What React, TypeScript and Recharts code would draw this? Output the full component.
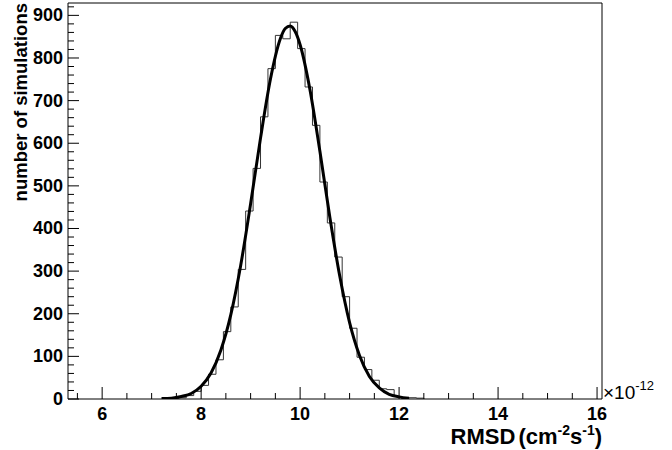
import React from 'react';
import { ComposedChart, Line, XAxis, YAxis, ReferenceLine, Label } from 'recharts';

// histogram: left bin edges (width 0.15), last entry closes the last bin
const binEdges = [
  7.25, 7.4, 7.55, 7.7, 7.85, 8.0, 8.15, 8.3, 8.45, 8.6, 8.75, 8.9, 9.05, 9.2, 9.35, 9.5, 9.65, 9.8,
  9.95, 10.1, 10.25, 10.4, 10.55, 10.7, 10.85, 11.0, 11.15, 11.3, 11.45, 11.6, 11.75, 11.9, 12.05,
  12.2, 12.35, 12.5,
];
const binCounts = [
  1, 1, 3, 8, 18, 32, 58, 92, 158, 216, 304, 441, 541, 662, 775, 853, 845, 884,
  822, 732, 642, 509, 413, 333, 240, 166, 98, 69, 44, 24, 22, 6, 1,
  3, 2, 0,
];

// gaussian fit curve
const fitX = [
  7.2, 7.4, 7.6, 7.8, 8.0, 8.2, 8.4, 8.6, 8.8, 9.0, 9.2, 9.4, 9.6, 9.7, 9.8, 9.9, 10.0, 10.2,
  10.4, 10.6, 10.8, 11.0, 11.2, 11.4, 11.6, 11.8, 12.0, 12.2,
];
const fitY = [
  1, 2, 6, 13, 30, 61, 115, 198, 314, 458, 612, 750, 845, 869, 875, 862, 831, 725,
  581, 427, 289, 179, 102, 53, 26, 11, 5, 2,
];

const xTicks = [5.5, 6, 6.5, 7, 7.5, 8, 8.5, 9, 9.5, 10, 10.5, 11, 11.5, 12, 12.5, 13, 13.5, 14, 14.5, 15, 15.5, 16];
const xLabels = [6, 8, 10, 12, 14, 16];
const yTicks = [
  0, 20, 40, 60, 80, 100, 120, 140, 160, 180, 200, 220, 240, 260, 280, 300, 320, 340, 360, 380,
  400, 420, 440, 460, 480, 500, 520, 540, 560, 580, 600, 620, 640, 660, 680, 700, 720, 740, 760,
  780, 800, 820, 840, 860, 880, 900, 920,
];
const yLabels = [0, 100, 200, 300, 400, 500, 600, 700, 800, 900];

const X_MIN = 5.31;
const X_MAX = 16.1;
const Y_MAX = 929;

const FONT = '"Liberation Sans", Arial, Helvetica, sans-serif';

const histData = binEdges.map((x, i) => ({ x, y: binCounts[i] }));
const fitData = fitX.map((x, i) => ({ x, y: fitY[i] }));

const XTick = ({ x, y, payload }: any) => {
  const major = xLabels.includes(payload.value);
  return (
    <g>
      <line x1={x} x2={x} y1={y} y2={y - (major ? 12 : 6)} stroke="#000" />
      {major && (
        <text x={x} y={y + 21} textAnchor="middle" fontFamily={FONT} fontWeight="bold" fontSize={18} fill="#000">
          {payload.value}
        </text>
      )}
    </g>
  );
};

const YTick = ({ x, y, payload }: any) => {
  const major = yLabels.includes(payload.value);
  return (
    <g>
      <line x1={x} x2={x + (major ? 11 : 6)} y1={y} y2={y} stroke="#000" />
      {major && (
        <text x={x - 5} y={y + 6} textAnchor="end" fontFamily={FONT} fontWeight="bold" fontSize={18} fill="#000">
          {payload.value}
        </text>
      )}
    </g>
  );
};

const XTitle = ({ viewBox }: any) => {
  const right = viewBox.x + viewBox.width;
  const base = viewBox.y;
  return (
    <g fontFamily={FONT} fill="#000">
      <text x={right + 1} y={base} fontSize={19}>
        ×10<tspan fontSize={13} dy={-9}>-12</tspan>
      </text>
      <text x={right} y={base + 45} textAnchor="end" fontWeight="bold" fontSize={22}>
        RMSD<tspan dx={3}>(cm</tspan>
        <tspan fontSize={14} dy={-9}>-2</tspan>
        <tspan dy={9}>s</tspan>
        <tspan fontSize={14} dy={-9}>-1</tspan>
        <tspan dy={9}>)</tspan>
      </text>
    </g>
  );
};

const YTitle = ({ viewBox }: any) => {
  const top = viewBox.y;
  return (
    <text
      x={27}
      y={top}
      transform={`rotate(-90 27 ${top})`}
      textAnchor="end"
      fontFamily={FONT}
      fontWeight="bold"
      fontSize={18.5}
      fill="#000"
    >
      number of simulations
    </text>
  );
};

export default function App() {
  return (
    <div style={{ position: 'absolute', left: 0, top: 0, background: '#fff' }}>
      <ComposedChart width={672} height={450} margin={{ top: 3, right: 70, bottom: 0, left: 0 }}>
        <XAxis
          dataKey="x"
          type="number"
          domain={[X_MIN, X_MAX]}
          allowDataOverflow
          ticks={xTicks}
          interval={0}
          tick={<XTick />}
          tickLine={false}
          tickSize={0}
          tickMargin={0}
          height={51}
          axisLine={{ stroke: '#000' }}
        >
          <Label content={<XTitle />} />
        </XAxis>
        <YAxis
          type="number"
          domain={[0, Y_MAX]}
          allowDataOverflow
          ticks={yTicks}
          interval={0}
          tick={<YTick />}
          tickLine={false}
          tickSize={0}
          tickMargin={0}
          width={68}
          axisLine={{ stroke: '#000' }}
        >
          <Label content={<YTitle />} />
        </YAxis>
        <ReferenceLine y={Y_MAX} stroke="#000" />
        <ReferenceLine x={X_MAX} stroke="#000" />
        <Line
          data={histData}
          dataKey="y"
          type="stepAfter"
          stroke="#333"
          strokeWidth={1}
          dot={false}
          activeDot={false}
          isAnimationActive={false}
        />
        <Line
          data={fitData}
          dataKey="y"
          type="monotone"
          stroke="#000"
          strokeWidth={3}
          dot={false}
          activeDot={false}
          isAnimationActive={false}
        />
      </ComposedChart>
    </div>
  );
}
